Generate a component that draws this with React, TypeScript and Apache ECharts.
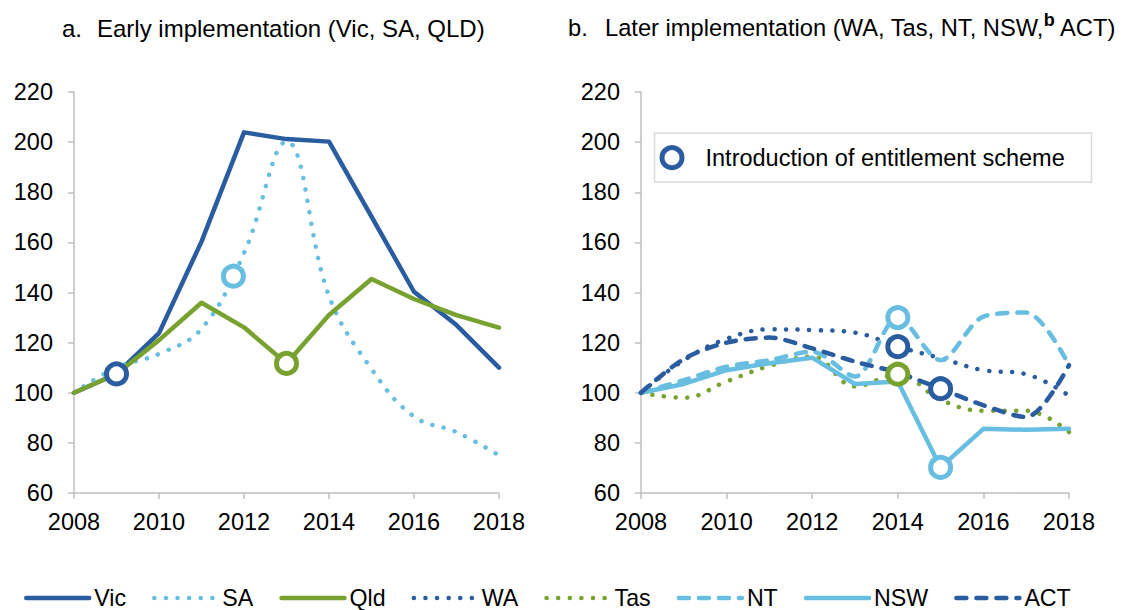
import React, { useEffect, useRef } from "react";
import * as echarts from "echarts";

const years = [2008, 2009, 2010, 2011, 2012, 2013, 2014, 2015, 2016, 2017, 2018];

// Panel a (early implementation)
const vic = [100, 107.5, 123.8, 160.3, 203.9, 201.2, 200.2, 170.3, 140.3, 127, 110];
const sa = [100, 110, 115.5, 125.5, 155.7, 200.2, 138.6, 109.5, 90.5, 84.3, 75];
const qld = [100, 107.5, 121, 135.9, 126.1, 111.7, 131, 145.4, 137.4, 131, 126];

// Panel b (later implementation)
const wa = [100, 113, 121.5, 125.3, 125, 124, 118.4, 113.8, 109, 107.4, 98.8];
const tas = [100, 98, 104.5, 110.7, 114.4, 102.5, 107.4, 97.2, 92.8, 92.8, 84.3];
const nt = [100, 105, 110.4, 113, 116.4, 106.5, 130, 113, 130.4, 132, 111];
const nsw = [100, 103.5, 109, 111.8, 114, 103.5, 104.5, 70.2, 85.6, 85.2, 85.6];
const act = [100, 113.5, 120, 122, 117.7, 112.4, 108, 101.6, 95, 90.3, 111];

// Introduction of entitlement scheme markers
const markersA = [
  { state: "Vic", year: 2009, value: 107.5 },
  { state: "SA", year: 2011.75, value: 146.5 },
  { state: "Qld", year: 2013, value: 111.7 },
];
const markersB = [
  { state: "WA", year: 2014, value: 118.4 },
  { state: "Tas", year: 2014, value: 107.4 },
  { state: "NT", year: 2014, value: 130 },
  { state: "NSW", year: 2015, value: 70.2 },
  { state: "ACT", year: 2015, value: 101.6 },
];

const xTicks = { min: 2008, max: 2018, interval: 2 };
const yTicks = { min: 60, max: 220, interval: 20 };

const DARK = "#2A5CA0";
const LIGHT = "#67BEE0";
const GREEN = "#77A22F";
const FONT = "'Liberation Sans', Arial, sans-serif";
const FS = 23.5;

const styleOf: Record<string, { color: string; type: any; smooth: number | boolean }> = {
  Vic: { color: DARK, type: "solid", smooth: false },
  SA: { color: LIGHT, type: [0.1, 11.5], smooth: 0.4 },
  Qld: { color: GREEN, type: "solid", smooth: false },
  WA: { color: DARK, type: [0.1, 11.5], smooth: 0.4 },
  Tas: { color: GREEN, type: [0.1, 11.5], smooth: 0.4 },
  NT: { color: LIGHT, type: [10, 10], smooth: 0.3 },
  NSW: { color: LIGHT, type: "solid", smooth: false },
  ACT: { color: DARK, type: [10, 10], smooth: 0.3 },
};

function lineSeries(name: string, values: number[], idx: number) {
  const s = styleOf[name];
  return {
    name,
    type: "line",
    xAxisIndex: idx,
    yAxisIndex: idx,
    data: years.map((y, i) => [y, values[i]]),
    symbol: "none",
    smooth: s.smooth,
    color: s.color,
    lineStyle: { color: s.color, width: 4.5, type: s.type, cap: "round", join: "round" },
    z: 2,
  };
}

function markerSeries(list: { state: string; year: number; value: number }[], idx: number) {
  return {
    name: "marker" + idx,
    type: "scatter",
    xAxisIndex: idx,
    yAxisIndex: idx,
    symbol: "circle",
    symbolSize: 20,
    z: 5,
    data: list.map((m) => ({
      value: [m.year, m.value],
      itemStyle: { color: "#fff", borderColor: styleOf[m.state].color, borderWidth: 5, opacity: 1 },
    })),
  };
}

const axisLineStyle = { lineStyle: { color: "#BFBFBF", width: 1.5 } };

function xAxis(idx: number) {
  return {
    type: "value",
    gridIndex: idx,
    ...xTicks,
    axisLine: { show: true, ...axisLineStyle },
    axisTick: { show: true, length: 6, ...axisLineStyle },
    splitLine: { show: false },
    axisLabel: {
      margin: 17,
      fontSize: FS,
      color: "#000",
      fontFamily: FONT,
      formatter: (v: number) => String(v),
    },
  };
}

function yAxis(idx: number) {
  return {
    type: "value",
    gridIndex: idx,
    ...yTicks,
    axisLine: { show: true, ...axisLineStyle },
    axisTick: { show: true, length: 6, ...axisLineStyle },
    splitLine: { show: false },
    axisLabel: { margin: 21, fontSize: FS, color: "#000", fontFamily: FONT },
  };
}

export default function App() {
  const ref = useRef<HTMLDivElement>(null);
  useEffect(() => {
    if (!ref.current) return;
    const chart = echarts.init(ref.current, undefined, { renderer: "svg" });
    const base = { fontSize: 23.7, fontFamily: FONT, fontWeight: "normal", color: "#000", lineHeight: 34, verticalAlign: "middle" };
    const baseA = { ...base, fontSize: 24 };
    const sup = { fontSize: 18, fontWeight: "bold", fontFamily: FONT, color: "#000", lineHeight: 18, verticalAlign: "top" };
    chart.setOption({
      animation: false,
      backgroundColor: "#fff",
      textStyle: { fontFamily: FONT },
      title: [
        {
          left: 62,
          top: 11,
          padding: 0,
          text: "{n|a.}{t|Early implementation (Vic, SA, QLD)}",
          textStyle: { fontWeight: "normal", rich: { t: baseA, n: { ...baseA, width: 35 } } },
        },
        {
          left: 568,
          top: 11,
          padding: 0,
          text: "{n|b.}{t|Later implementation (WA, Tas, NT, NSW,}{sup|b}{t| ACT)}",
          textStyle: { fontWeight: "normal", rich: { t: base, sup, n: { ...base, width: 37 } } },
        },
      ],
      grid: [
        { left: 74, top: 92, width: 425, height: 401 },
        { left: 641, top: 92, width: 428, height: 401 },
      ],
      xAxis: [xAxis(0), xAxis(1)],
      yAxis: [yAxis(0), yAxis(1)],
      legend: {
        data: ["Vic", "SA", "Qld", "WA", "Tas", "NT", "NSW", "ACT"],
        left: 24,
        top: 586,
        padding: 0,
        itemWidth: 63,
        itemHeight: 14,
        itemGap: 26,
        itemStyle: { opacity: 0, borderWidth: 0 },
        lineStyle: { width: "inherit" },
        textStyle: { fontSize: 23.2, color: "#000", fontFamily: FONT, lineHeight: 24 },
        selectedMode: false,
      },
      graphic: [
        {
          type: "group",
          children: [
            {
              type: "rect",
              shape: { x: 654.5, y: 133, width: 437, height: 49 },
              style: { fill: "#fff", stroke: "#D9D9D9", lineWidth: 1.5 },
            },
            {
              type: "circle",
              shape: { cx: 672, cy: 157.7, r: 10 },
              style: { fill: "#fff", stroke: DARK, lineWidth: 5 },
            },
            {
              type: "text",
              x: 705.5,
              y: 157.7,
              style: {
                text: "Introduction of entitlement scheme",
                fontSize: FS,
                fontFamily: FONT,
                fill: "#000",
                verticalAlign: "middle",
              },
            },
          ],
        },
      ],
      series: [
        lineSeries("Vic", vic, 0),
        lineSeries("SA", sa, 0),
        lineSeries("Qld", qld, 0),
        lineSeries("WA", wa, 1),
        lineSeries("Tas", tas, 1),
        lineSeries("NT", nt, 1),
        lineSeries("NSW", nsw, 1),
        lineSeries("ACT", act, 1),
        markerSeries(markersA, 0),
        markerSeries(markersB, 1),
      ],
    });
    return () => chart.dispose();
  }, []);
  return (
    <div
      ref={ref}
      style={{ position: "absolute", left: 0, top: 0, width: 1126, height: 610 }}
    />
  );
}
